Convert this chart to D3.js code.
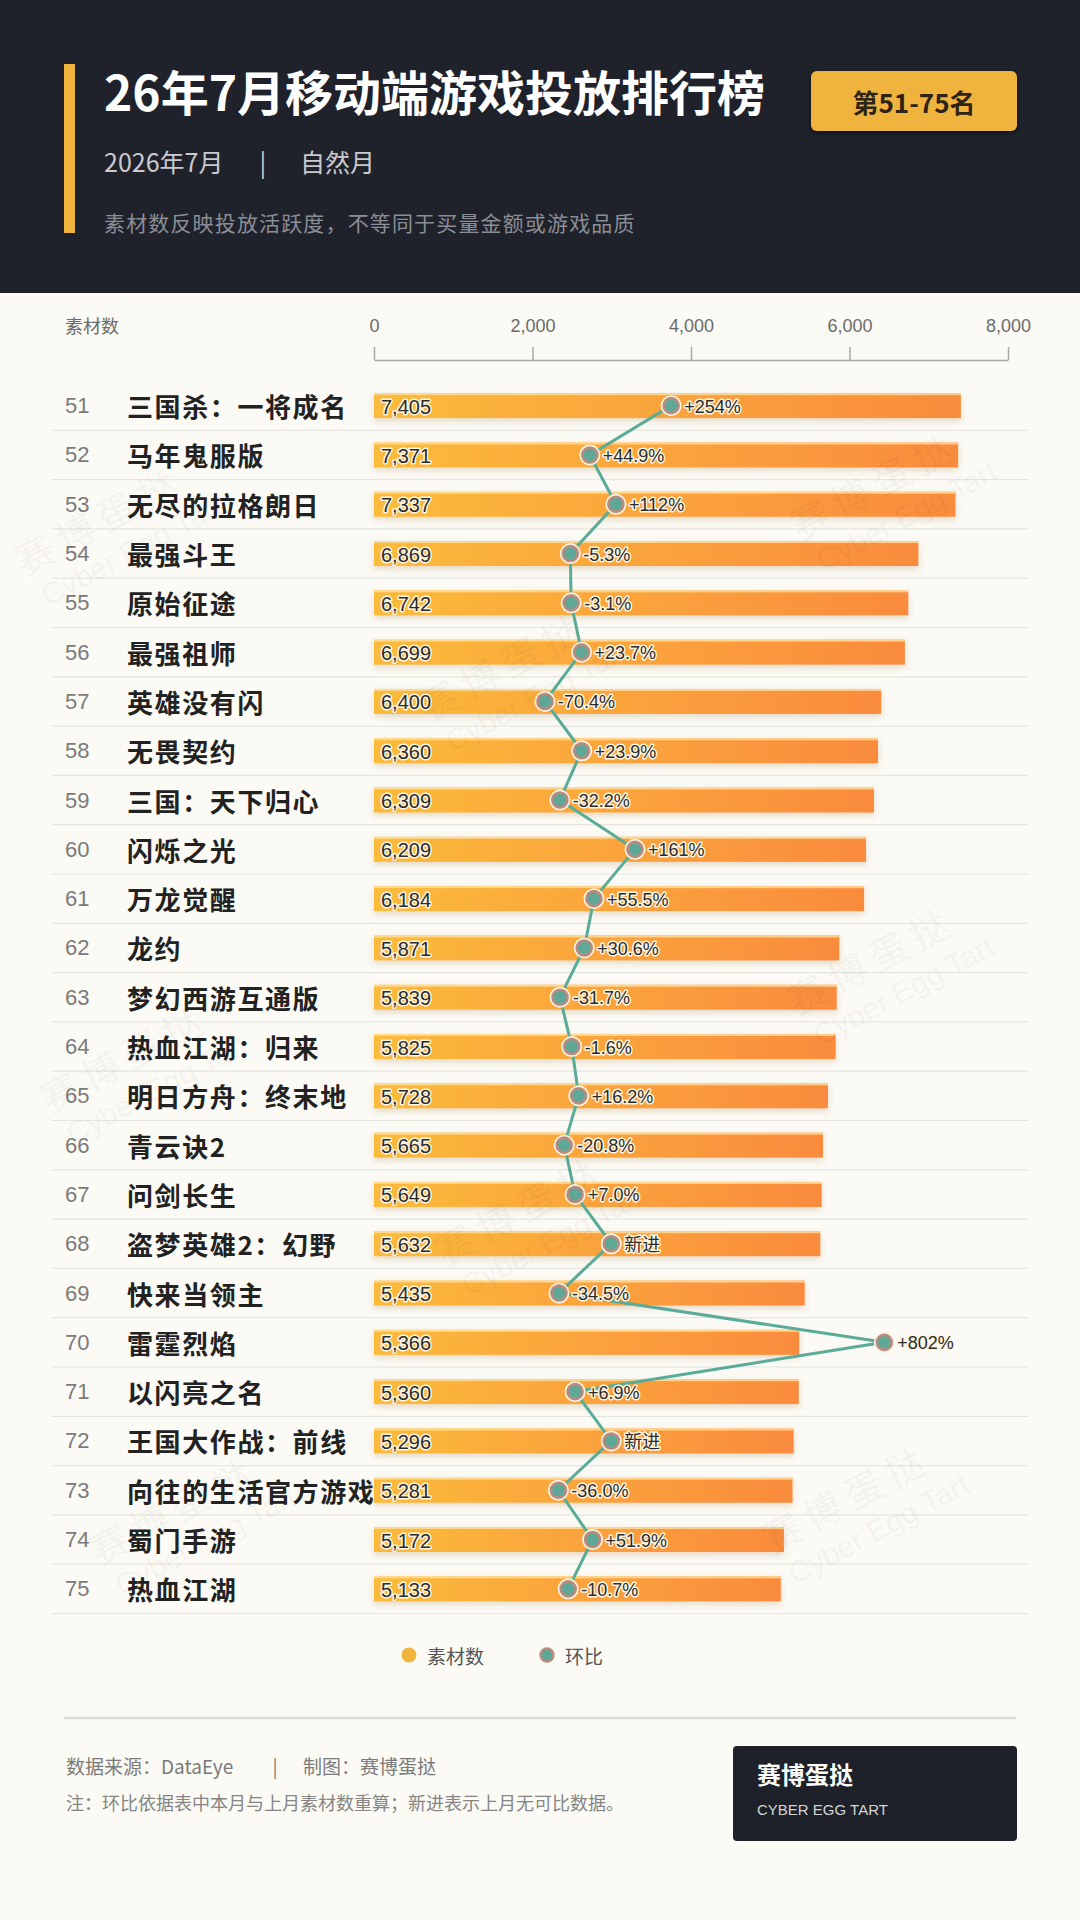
<!DOCTYPE html>
<html>
<head>
<meta charset="utf-8">
<script src="https://cdn.jsdelivr.net/npm/d3@7"></script>
<style>
  html, body { margin: 0; padding: 0; background: #fbfaf4; }
  svg { display: block; }
</style>
</head>
<body>
<div id="chart"></div>
<script>
/*global d3:true */

// data
var ranks = [51,52,53,54,55,56,57,58,59,60,61,62,63,64,65,66,67,68,69,70,71,72,73,74,75];
var games = ["三国杀：一将成名","马年鬼服版","无尽的拉格朗日","最强斗王","原始征途","最强祖师","英雄没有闪","无畏契约","三国：天下归心","闪烁之光","万龙觉醒","龙约","梦幻西游互通版","热血江湖：归来","明日方舟：终末地","青云诀2","问剑长生","盗梦英雄2：幻野","快来当领主","雷霆烈焰","以闪亮之名","王国大作战：前线","向往的生活官方游戏","蜀门手游","热血江湖"];
var materials = [7405,7371,7337,6869,6742,6699,6400,6360,6309,6209,6184,5871,5839,5825,5728,5665,5649,5632,5435,5366,5360,5296,5281,5172,5133];
// null = 新进 (no comparable data last month)
var momChange = [254,44.9,112,-5.3,-3.1,23.7,-70.4,23.9,-32.2,161,55.5,30.6,-31.7,-1.6,16.2,-20.8,7.0,null,-34.5,802,6.9,null,-36.0,51.9,-10.7];
var xTicks = [0,2000,4000,6000,8000];

var W = 1080, H = 1920;
var CJK = "'Noto Sans CJK SC', 'Noto Sans', sans-serif";
var LAT = "'Liberation Sans', 'Noto Sans CJK SC', sans-serif";

var svg = d3.select("#chart").append("svg").attr("width", W).attr("height", H);
var defs = svg.append("defs");

// bar gradient, yellow to orange along each bar
var grad = defs.append("linearGradient").attr("id", "barGrad").attr("x1", "0%").attr("x2", "100%");
grad.append("stop").attr("offset", "0%").attr("stop-color", "#fbbb3a");
grad.append("stop").attr("offset", "100%").attr("stop-color", "#fa8b3d");

var shadow = defs.append("filter").attr("id", "barShadow").attr("x", "-5%").attr("y", "-60%").attr("width", "110%").attr("height", "220%");
shadow.append("feDropShadow").attr("dx", 0).attr("dy", 3).attr("stdDeviation", 3).attr("flood-color", "#7a4a10").attr("flood-opacity", 0.18);

var badgeShadow = defs.append("filter").attr("id", "badgeShadow").attr("x", "-10%").attr("y", "-20%").attr("width", "120%").attr("height", "140%");
badgeShadow.append("feDropShadow").attr("dx", 0).attr("dy", 2).attr("stdDeviation", 2).attr("flood-color", "#000").attr("flood-opacity", 0.6);

// page background
svg.append("rect").attr("width", W).attr("height", H).attr("fill", "#fbfaf4");

// ---------------- header ----------------
svg.append("rect").attr("width", W).attr("height", 293).attr("fill", "#1f222b");
svg.append("rect").attr("x", 64).attr("y", 64).attr("width", 11).attr("height", 169).attr("fill", "#f0b33c");

svg.append("text").attr("x", 104).attr("y", 90).attr("dominant-baseline", "central")
  .style("font-family", CJK).style("font-size", "48px").style("font-weight", 700).attr("fill", "#ffffff")
  .text("26年7月移动端游戏投放排行榜");

svg.append("text").attr("x", 104).attr("y", 161).attr("dominant-baseline", "central")
  .style("font-family", CJK).style("font-size", "25px").attr("fill", "#c9cbd0").text("2026年7月");
svg.append("text").attr("x", 263).attr("y", 161).attr("dominant-baseline", "central").attr("text-anchor", "middle")
  .style("font-family", CJK).style("font-size", "25px").attr("fill", "#c9cbd0").text("|");
svg.append("text").attr("x", 300).attr("y", 161).attr("dominant-baseline", "central")
  .style("font-family", CJK).style("font-size", "25px").attr("fill", "#c9cbd0").text("自然月");

svg.append("text").attr("x", 104).attr("y", 222).attr("dominant-baseline", "central")
  .style("font-family", CJK).style("font-size", "21px").style("letter-spacing", "1.15px").attr("fill", "#8b8e96")
  .text("素材数反映投放活跃度，不等同于买量金额或游戏品质");

svg.append("rect").attr("x", 811).attr("y", 71).attr("width", 206).attr("height", 60).attr("rx", 6)
  .attr("fill", "#f0b33c").attr("filter", "url(#badgeShadow)");
svg.append("text").attr("x", 914).attr("y", 101).attr("dominant-baseline", "central").attr("text-anchor", "middle")
  .style("font-family", CJK).style("font-size", "26px").style("font-weight", 700).attr("fill", "#2d2416")
  .text("第51-75名");

// ---------------- scales ----------------
var x = d3.scaleLinear().domain([0, 8000]).range([374, 1008]);
// secondary scale for 环比, shares the bar range
var xPct = d3.scaleLinear().domain([-510, 1120]).range([374, 1008]);
var y = d3.scaleBand().domain(ranks).range([381, 381 + 25 * 49.3]).padding(0);
var barH = 25;
var rows = ranks.map(function(r, i){
  return {rank: r, game: games[i], value: materials[i], change: momChange[i]};
});

// axis
svg.append("text").attr("x", 65).attr("y", 325).attr("dominant-baseline", "central")
  .style("font-family", CJK).style("font-size", "18px").attr("fill", "#6b6b6b").text("素材数");

var axisG = svg.append("g").attr("transform", "translate(0,360)")
  .call(d3.axisTop(x).tickValues(xTicks).tickSize(13).tickSizeOuter(0).tickPadding(15).tickFormat(d3.format(",")));
axisG.select(".domain").attr("stroke", "#a9a9a9").attr("stroke-width", 1.5);
axisG.selectAll(".tick line").attr("stroke", "#a9a9a9").attr("stroke-width", 1.5);
axisG.selectAll(".tick text").style("font-family", LAT).style("font-size", "18px").attr("fill", "#6b6b6b");

// row separators
svg.append("g").selectAll("line").data(rows).join("line")
  .attr("x1", 52).attr("x2", 1028)
  .attr("y1", function(d){ return y(d.rank) + y.bandwidth(); })
  .attr("y2", function(d){ return y(d.rank) + y.bandwidth(); })
  .attr("stroke", "#e6e6df").attr("stroke-width", 1.2);

// rank numbers and names
svg.append("g").selectAll("text").data(rows).join("text")
  .attr("x", 65).attr("y", function(d){ return y(d.rank) + y.bandwidth() / 2; })
  .attr("dominant-baseline", "central")
  .style("font-family", LAT).style("font-size", "22px").attr("fill", "#7b7b7b")
  .text(function(d){ return d.rank; });

svg.append("g").selectAll("text").data(rows).join("text")
  .attr("x", 127).attr("y", function(d){ return y(d.rank) + y.bandwidth() / 2; })
  .attr("dominant-baseline", "central")
  .style("font-family", CJK).style("font-size", "26px").style("font-weight", 700).style("letter-spacing", "1.6px")
  .attr("fill", "#222222")
  .text(function(d){ return d.game; });

// bars
var barG = svg.append("g");
barG.selectAll("rect.bar").data(rows).join("rect").attr("class", "bar")
  .attr("x", x(0))
  .attr("y", function(d){ return y(d.rank) + (y.bandwidth() - barH) / 2; })
  .attr("width", function(d){ return x(d.value) - x(0); })
  .attr("height", barH)
  .attr("fill", "url(#barGrad)")
  .attr("filter", "url(#barShadow)");
barG.selectAll("rect.hl").data(rows).join("rect").attr("class", "hl")
  .attr("x", x(0))
  .attr("y", function(d){ return y(d.rank) + (y.bandwidth() - barH) / 2; })
  .attr("width", function(d){ return x(d.value) - x(0); })
  .attr("height", 2)
  .attr("fill", "#ffe1a0").attr("opacity", 0.8);

barG.selectAll("text").data(rows).join("text")
  .attr("x", x(0) + 7)
  .attr("y", function(d){ return y(d.rank) + y.bandwidth() / 2 + 1; })
  .attr("dominant-baseline", "central")
  .style("font-family", LAT).style("font-size", "20px")
  .style("paint-order", "stroke").attr("stroke", "#fff6e2").attr("stroke-width", 3).attr("stroke-linejoin", "round")
  .attr("fill", "#2b2b2b")
  .text(function(d){ return d3.format(",")(d.value); });

// 环比 line + dots
function pctPos(d){ return xPct(d.change === null ? 100 : d.change); }
var fmtSmall = d3.format("+.1f"), fmtBig = d3.format("+.0f");
function pctLabel(d){
  if (d.change === null) { return "新进"; }
  var s = Math.abs(d.change) >= 100 ? fmtBig(d.change) : fmtSmall(d.change);
  return s.replace("\u2212", "-") + "%";
}

var line = d3.line()
  .x(pctPos)
  .y(function(d){ return y(d.rank) + y.bandwidth() / 2; });
svg.append("path").datum(rows).attr("d", line)
  .attr("fill", "none").attr("stroke", "#5aab98").attr("stroke-width", 3).attr("stroke-linejoin", "round");

var dotG = svg.append("g");
dotG.selectAll("circle.halo").data(rows).join("circle").attr("class", "halo")
  .attr("cx", pctPos).attr("cy", function(d){ return y(d.rank) + y.bandwidth() / 2; })
  .attr("r", 10.5).attr("fill", "#fbf1df");
dotG.selectAll("circle.dot").data(rows).join("circle").attr("class", "dot")
  .attr("cx", pctPos).attr("cy", function(d){ return y(d.rank) + y.bandwidth() / 2; })
  .attr("r", 7.5).attr("fill", "#5fa898").attr("stroke", "#b98a80").attr("stroke-width", 2.6);

dotG.selectAll("text").data(rows).join("text")
  .attr("x", function(d){ return pctPos(d) + 13; })
  .attr("y", function(d){ return y(d.rank) + y.bandwidth() / 2 + 1; })
  .attr("dominant-baseline", "central")
  .style("font-family", LAT).style("font-size", "18px")
  .style("paint-order", "stroke").attr("stroke", "#fff6e2").attr("stroke-width", 3).attr("stroke-linejoin", "round")
  .attr("fill", "#2b2b2b")
  .text(pctLabel);

// legend
var leg = svg.append("g").attr("transform", "translate(0,1655)");
leg.append("circle").attr("cx", 409).attr("cy", 0).attr("r", 7.5).attr("fill", "#f0b33c");
leg.append("text").attr("x", 427).attr("y", 0).attr("dominant-baseline", "central")
  .style("font-family", CJK).style("font-size", "19px").attr("fill", "#555").text("素材数");
leg.append("circle").attr("cx", 547).attr("cy", 0).attr("r", 6.5).attr("fill", "#5fa898").attr("stroke", "#b98a80").attr("stroke-width", 2.4);
leg.append("text").attr("x", 565).attr("y", 0).attr("dominant-baseline", "central")
  .style("font-family", CJK).style("font-size", "19px").attr("fill", "#555").text("环比");

// watermarks
var marks = [[110,540],[885,505],[514,686],[882,980],[135,1078],[530,1230],[184,1530],[857,1518]];
var wm = svg.append("g").attr("pointer-events", "none");
marks.forEach(function(p){
  var g = wm.append("g").attr("transform", "translate(" + p[0] + "," + p[1] + ") rotate(-28)");
  g.append("text").attr("text-anchor", "middle").attr("y", -8)
    .style("font-family", CJK).style("font-size", "38px").style("font-weight", 400).style("letter-spacing", "8px")
    .attr("fill", "#000").attr("fill-opacity", 0.055).text("赛博蛋挞");
  g.append("text").attr("text-anchor", "middle").attr("x", 14).attr("y", 30)
    .style("font-family", LAT).style("font-size", "30px")
    .attr("fill", "#000").attr("fill-opacity", 0.05).text("Cyber Egg Tart");
});

// ---------------- footer ----------------
svg.append("line").attr("x1", 64).attr("x2", 1016).attr("y1", 1718).attr("y2", 1718)
  .attr("stroke", "#dcdcd5").attr("stroke-width", 2.5);

svg.append("text").attr("x", 66).attr("y", 1765).attr("dominant-baseline", "central")
  .style("font-family", CJK).style("font-size", "19px").attr("fill", "#7a7a7a").text("数据来源：DataEye");
svg.append("text").attr("x", 275).attr("y", 1765).attr("dominant-baseline", "central").attr("text-anchor", "middle")
  .style("font-family", CJK).style("font-size", "19px").attr("fill", "#7a7a7a").text("|");
svg.append("text").attr("x", 303).attr("y", 1765).attr("dominant-baseline", "central")
  .style("font-family", CJK).style("font-size", "19px").attr("fill", "#7a7a7a").text("制图：赛博蛋挞");
svg.append("text").attr("x", 66).attr("y", 1802).attr("dominant-baseline", "central")
  .style("font-family", CJK).style("font-size", "18px").attr("fill", "#858585")
  .text("注：环比依据表中本月与上月素材数重算；新进表示上月无可比数据。");

svg.append("rect").attr("x", 733).attr("y", 1746).attr("width", 284).attr("height", 95).attr("rx", 4).attr("fill", "#1e2129");
svg.append("text").attr("x", 757).attr("y", 1773).attr("dominant-baseline", "central")
  .style("font-family", CJK).style("font-size", "24px").style("font-weight", 700).attr("fill", "#ffffff").text("赛博蛋挞");
svg.append("text").attr("x", 757).attr("y", 1809).attr("dominant-baseline", "central")
  .style("font-family", LAT).style("font-size", "15px").attr("fill", "#d4d4d4").text("CYBER EGG TART");
</script>
</body>
</html>
